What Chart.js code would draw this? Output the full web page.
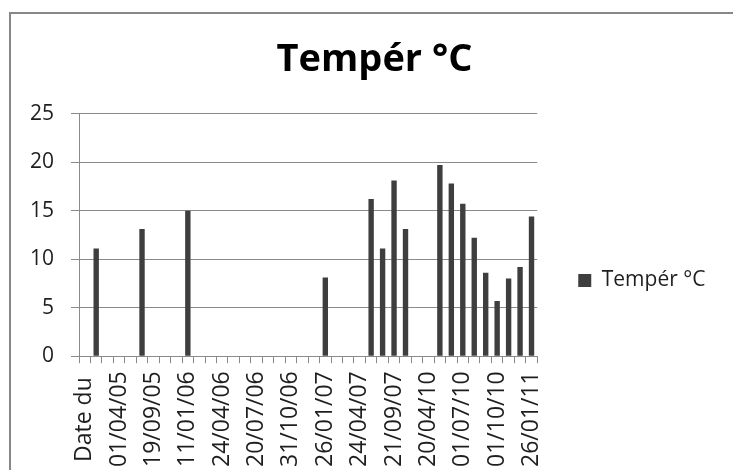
<!DOCTYPE html>
<html>
<head>
<meta charset="utf-8">
<script src="https://cdn.jsdelivr.net/npm/chart.js@4.4.1/dist/chart.umd.min.js"></script>
<style>
  html, body { margin: 0; padding: 0; background: #ffffff; }
  #wrap { width: 733px; height: 470px; }
</style>
</head>
<body>
<div id="wrap"><canvas id="c" width="733" height="470"></canvas></div>
<script>
// Category labels (only every third date is printed on the axis)
const categories = [
  "Date du ", "", "", "01/04/05", "", "", "19/09/05", "", "", "11/01/06",
  "", "", "24/04/06", "", "", "20/07/06", "", "", "31/10/06", "",
  "", "26/01/07", "", "", "24/04/07", "", "", "21/09/07", "", "",
  "20/04/10", "", "", "01/07/10", "", "", "01/10/10", "", "", "26/01/11"
];

// Temperature readings per category (null = no reading)
const temperatures = [
  null, 11.1, null, null, null, 13.1, null, null, null, 15.0,
  null, null, null, null, null, null, null, null, null, null,
  null, 8.1, null, null, null, 16.2, 11.1, 18.1, 13.1, null,
  null, 19.7, 17.8, 15.7, 12.2, 8.6, 5.7, 8.0, 9.2, 14.4
];

const seriesName = "Tempér °C";
const yTicks = [0, 5, 10, 15, 20, 25];

const FONT = "'Open Sans', 'DejaVu Sans', sans-serif";
const TEXT = "#1e1e1e";
const GRID = "#8a8a8a";
const BAR = "#3e3e3e";

// White page with the grey outer frame of the chart object
const framePlugin = {
  id: "frame",
  beforeDraw(chart) {
    const ctx = chart.ctx;
    ctx.save();
    ctx.fillStyle = "#ffffff";
    ctx.fillRect(0, 0, chart.width, chart.height);
    ctx.strokeStyle = "#878787";
    ctx.lineWidth = 2;
    ctx.strokeRect(10, 13, chart.width + 20, chart.height + 20);
    ctx.restore();
  }
};

// Centre the title over the frame rather than over the padded layout width
const titleShiftPlugin = {
  id: "titleShift",
  afterLayout(chart) {
    const t = chart.titleBlock;
    if (t) { t.left += 24; }
  }
};

new Chart(document.getElementById("c"), {
  type: "bar",
  data: {
    labels: categories,
    datasets: [{
      label: seriesName,
      data: temperatures,
      backgroundColor: BAR,
      borderWidth: 0,
      barPercentage: 0.47,
      categoryPercentage: 1.0
    }]
  },
  options: {
    responsive: false,
    devicePixelRatio: 1,
    animation: false,
    layout: { padding: { left: 13, right: 21, top: 0, bottom: 3 } },
    plugins: {
      title: {
        display: true,
        text: seriesName,
        color: "#000000",
        font: { family: FONT, size: 38, weight: "bold", lineHeight: 1.2 },
        padding: { top: 37, bottom: 31 }
      },
      legend: {
        display: true,
        position: "right",
        // empty spacer title pushes the single entry down beside the plot
        title: {
          display: true,
          text: " ",
          font: { family: FONT, size: 10, lineHeight: 1.2 },
          padding: { top: 0, bottom: 82 }
        },
        labels: {
          boxWidth: 13,
          boxHeight: 13,
          padding: 41,
          color: TEXT,
          font: { family: FONT, size: 21 }
        }
      },
      tooltip: { enabled: false }
    },
    scales: {
      x: {
        offset: true,
        grid: {
          offset: true,
          drawOnChartArea: false,
          drawTicks: true,
          tickLength: 7,
          color: GRID
        },
        border: { display: true, color: GRID, width: 1 },
        ticks: {
          autoSkip: false,
          minRotation: 90,
          maxRotation: 90,
          padding: 8,
          color: TEXT,
          font: { family: FONT, size: 23 }
        },
        afterFit(scale) { scale.height -= 8; }
      },
      y: {
        min: 0,
        max: 25,
        afterBuildTicks(scale) { scale.ticks = yTicks.map(v => ({ value: v })); },
        grid: { color: GRID, tickLength: 8, drawTicks: true },
        border: { display: true, color: GRID, width: 1 },
        ticks: {
          padding: 17,
          color: TEXT,
          font: { family: FONT, size: 21 }
        }
      }
    }
  },
  plugins: [framePlugin, titleShiftPlugin]
});
</script>
</body>
</html>
